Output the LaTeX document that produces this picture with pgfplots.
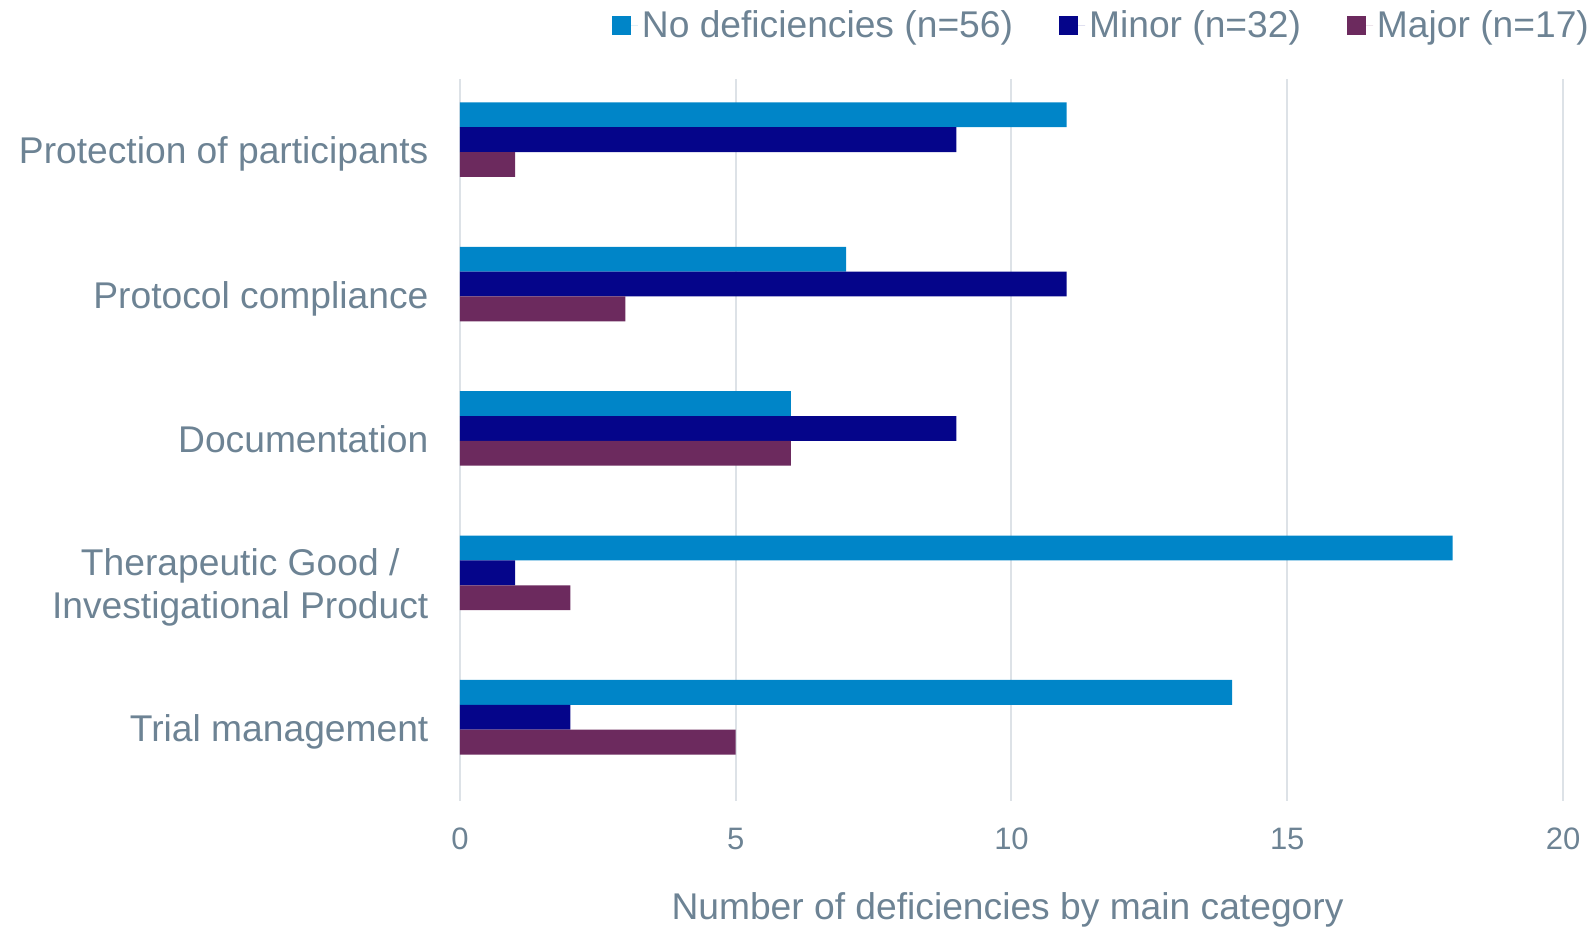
\documentclass[border=0pt]{standalone}
\usepackage{fontspec}
\setmainfont{Liberation Sans}
\usepackage{pgfplots}
\usepackage{pgfplotstable}
\pgfplotsset{compat=1.18}
\definecolor{cNo}{HTML}{0085C8}
\definecolor{cMinor}{HTML}{05058A}
\definecolor{cMajor}{HTML}{6C2A5E}
\definecolor{txt}{HTML}{6D8394}
\definecolor{grd}{HTML}{DDE2E7}
\pgfplotstableread{
cat no minor major
0 11 9 1
1 7 11 3
2 6 9 6
3 18 1 2
4 14 2 5
}\data
\begin{document}
\begin{tikzpicture}
\useasboundingbox (-230pt,-64pt) rectangle (565pt,400.5pt);
\begin{axis}[
  at={(0,0)}, anchor=south west,
  scale only axis, width=551.5pt, height=361pt,
  xbar, bar width=0.172, bar shift=0pt,
  xmin=0, xmax=20, ymin=-0.5, ymax=4.5,
  y dir=reverse,
  xtick={0,5,10,15,20},
  ytick={0,1,2,3,4},
  yticklabels={Protection of participants\strut, Protocol compliance\strut, Documentation\strut, {Therapeutic Good /\strut\\Investigational Product\strut}, Trial management\strut},
  yticklabel style={font=\fontsize{18.6}{21.8}\selectfont, text=txt, align=center, xshift=-8pt, yshift=-2pt},
  xticklabel style={font=\fontsize{15.5}{18}\selectfont, text=txt, yshift=-10pt},
  /pgf/number format/assume math mode=true,
  xmajorgrids, grid style={grd, line width=1pt},
  axis line style={draw=none},
  major tick style={draw=none},
  xlabel={Number of deficiencies by main category},
  xlabel style={font=\fontsize{18.6}{21.8}\selectfont, text=txt, at={(axis description cs:0.5,-0.1454)}, anchor=center, xshift=-2pt, yshift=-2pt},
  legend columns=3,
  legend style={at={(1.0275,1.0742)}, anchor=east, draw=none, fill=none, inner sep=0pt,
    font=\fontsize{18.6}{21.8}\selectfont, text=txt,
    /tikz/every even column/.append style={column sep=21pt},
    /tikz/every odd column/.append style={column sep=0pt}},
  legend image code/.code={\fill[#1] (0pt,-4.75pt) rectangle (9.5pt,4.75pt); \path (0pt,0pt) -- (13pt,0pt);},
]
\addplot[fill=cNo, draw=none] table[x=no, y expr=\thisrow{cat}-0.252]{\data};
\addplot[fill=cMinor, draw=none] table[x=minor, y expr=\thisrow{cat}-0.080]{\data};
\addplot[fill=cMajor, draw=none] table[x=major, y expr=\thisrow{cat}+0.092]{\data};
\legend{No deficiencies (n=56), Minor (n=32), Major (n=17)}
\end{axis}
\end{tikzpicture}
\end{document}
